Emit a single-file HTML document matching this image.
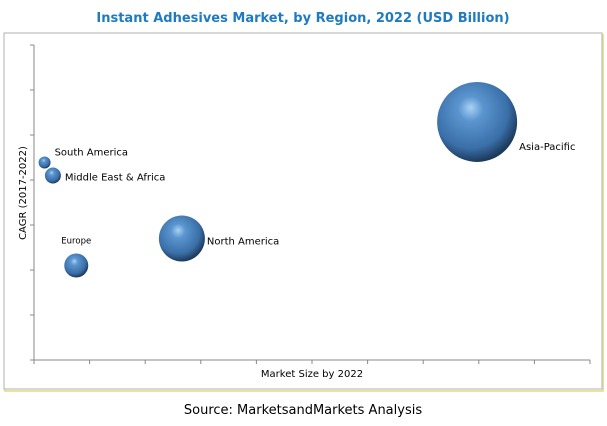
<!DOCTYPE html>
<html><head><meta charset="utf-8"><style>
body{margin:0;background:#fff;width:607px;height:422px;overflow:hidden;font-family:"DejaVu Sans","Liberation Sans",sans-serif}
</style></head><body>
<svg width="607" height="422">
<defs>
<radialGradient id="g" cx="0.42" cy="0.38" r="0.62" fx="0.42" fy="0.32">
<stop offset="0" stop-color="#a9d2f5"/><stop offset="0.25" stop-color="#5b95cf"/><stop offset="0.75" stop-color="#3a6fa8"/><stop offset="1" stop-color="#1d3a5c"/>
</radialGradient>
</defs>
<text x="303" y="22" text-anchor="middle" font-size="13" font-weight="bold" fill="#1f7bc0">Instant Adhesives Market, by Region, 2022 (USD Billion)</text>
<rect x="5" y="35" width="598" height="356" fill="none" stroke="#e8e4a0" stroke-width="2"/>
<rect x="4" y="33" width="598" height="356" fill="#fff" stroke="#b0b0b0" stroke-width="1"/>
<g id="axes"></g>
<g id="marks"></g>
<text x="312" y="377" text-anchor="middle" font-size="10" fill="#000">Market Size by 2022</text>
<text transform="translate(26,193) rotate(-90)" text-anchor="middle" font-size="10" fill="#000">CAGR (2017-2022)</text>
<text x="303" y="414" text-anchor="middle" font-size="13" fill="#000">Source: MarketsandMarkets Analysis</text>
</svg>
<script>
const regions=["Asia-Pacific","North America","Europe","South America","Middle East & Africa"];
const marketSize=[7.97,2.66,0.76,0.19,0.34];
const cagr=[5.29,2.70,2.10,4.39,4.10];
const bubbleRadius=[40,23,12,6,8];
const xTicks=[0,1,2,3,4,5,6,7,8,9,10];
const yTicks=[0,1,2,3,4,5,6,7];
const labelDx=[42,25,0,10,12];
const labelDy=[25,3,-25,-10,2];
const labelAnchor=["start","start","middle","start","start"];
const X0=34,X1=590,Y0=360,Y1=45;
const xs=v=>X0+(X1-X0)*v/10, ys=v=>Y0-(Y0-Y1)*v/7;
const NS="http://www.w3.org/2000/svg";
const ax=document.getElementById('axes'), mk=document.getElementById('marks');
function mkEl(t,a,p){const e=document.createElementNS(NS,t);for(const k in a)e.setAttribute(k,a[k]);p.appendChild(e);return e;}
let l=mkEl('line',{x1:X0,y1:Y0,x2:X1,y2:Y0,stroke:'#888'},ax);


l=mkEl('line',{x1:X0,y1:Y0,x2:X0,y2:Y1,stroke:'#888'},ax);


xTicks.forEach(t=>{const e=mkEl('line',{x1:xs(t),y1:Y0,x2:xs(t),y2:Y0+4,stroke:'#888'},ax);

});
yTicks.forEach(t=>{const e=mkEl('line',{x1:X0-4,y1:ys(t),x2:X0,y2:ys(t),stroke:'#888'},ax);

});
regions.forEach((r,i)=>{
const cx=xs(marketSize[i]),cy=ys(cagr[i]);
const c=mkEl('circle',{cx:cx,cy:cy,r:bubbleRadius[i],fill:'url(#g)'},mk);


const t=mkEl('text',{x:cx+labelDx[i],y:cy+labelDy[i]+3,'font-size':i==2?8.5:10,'text-anchor':labelAnchor[i],fill:'#000'},mk);
t.textContent=r;


});
</script>
</body></html>
